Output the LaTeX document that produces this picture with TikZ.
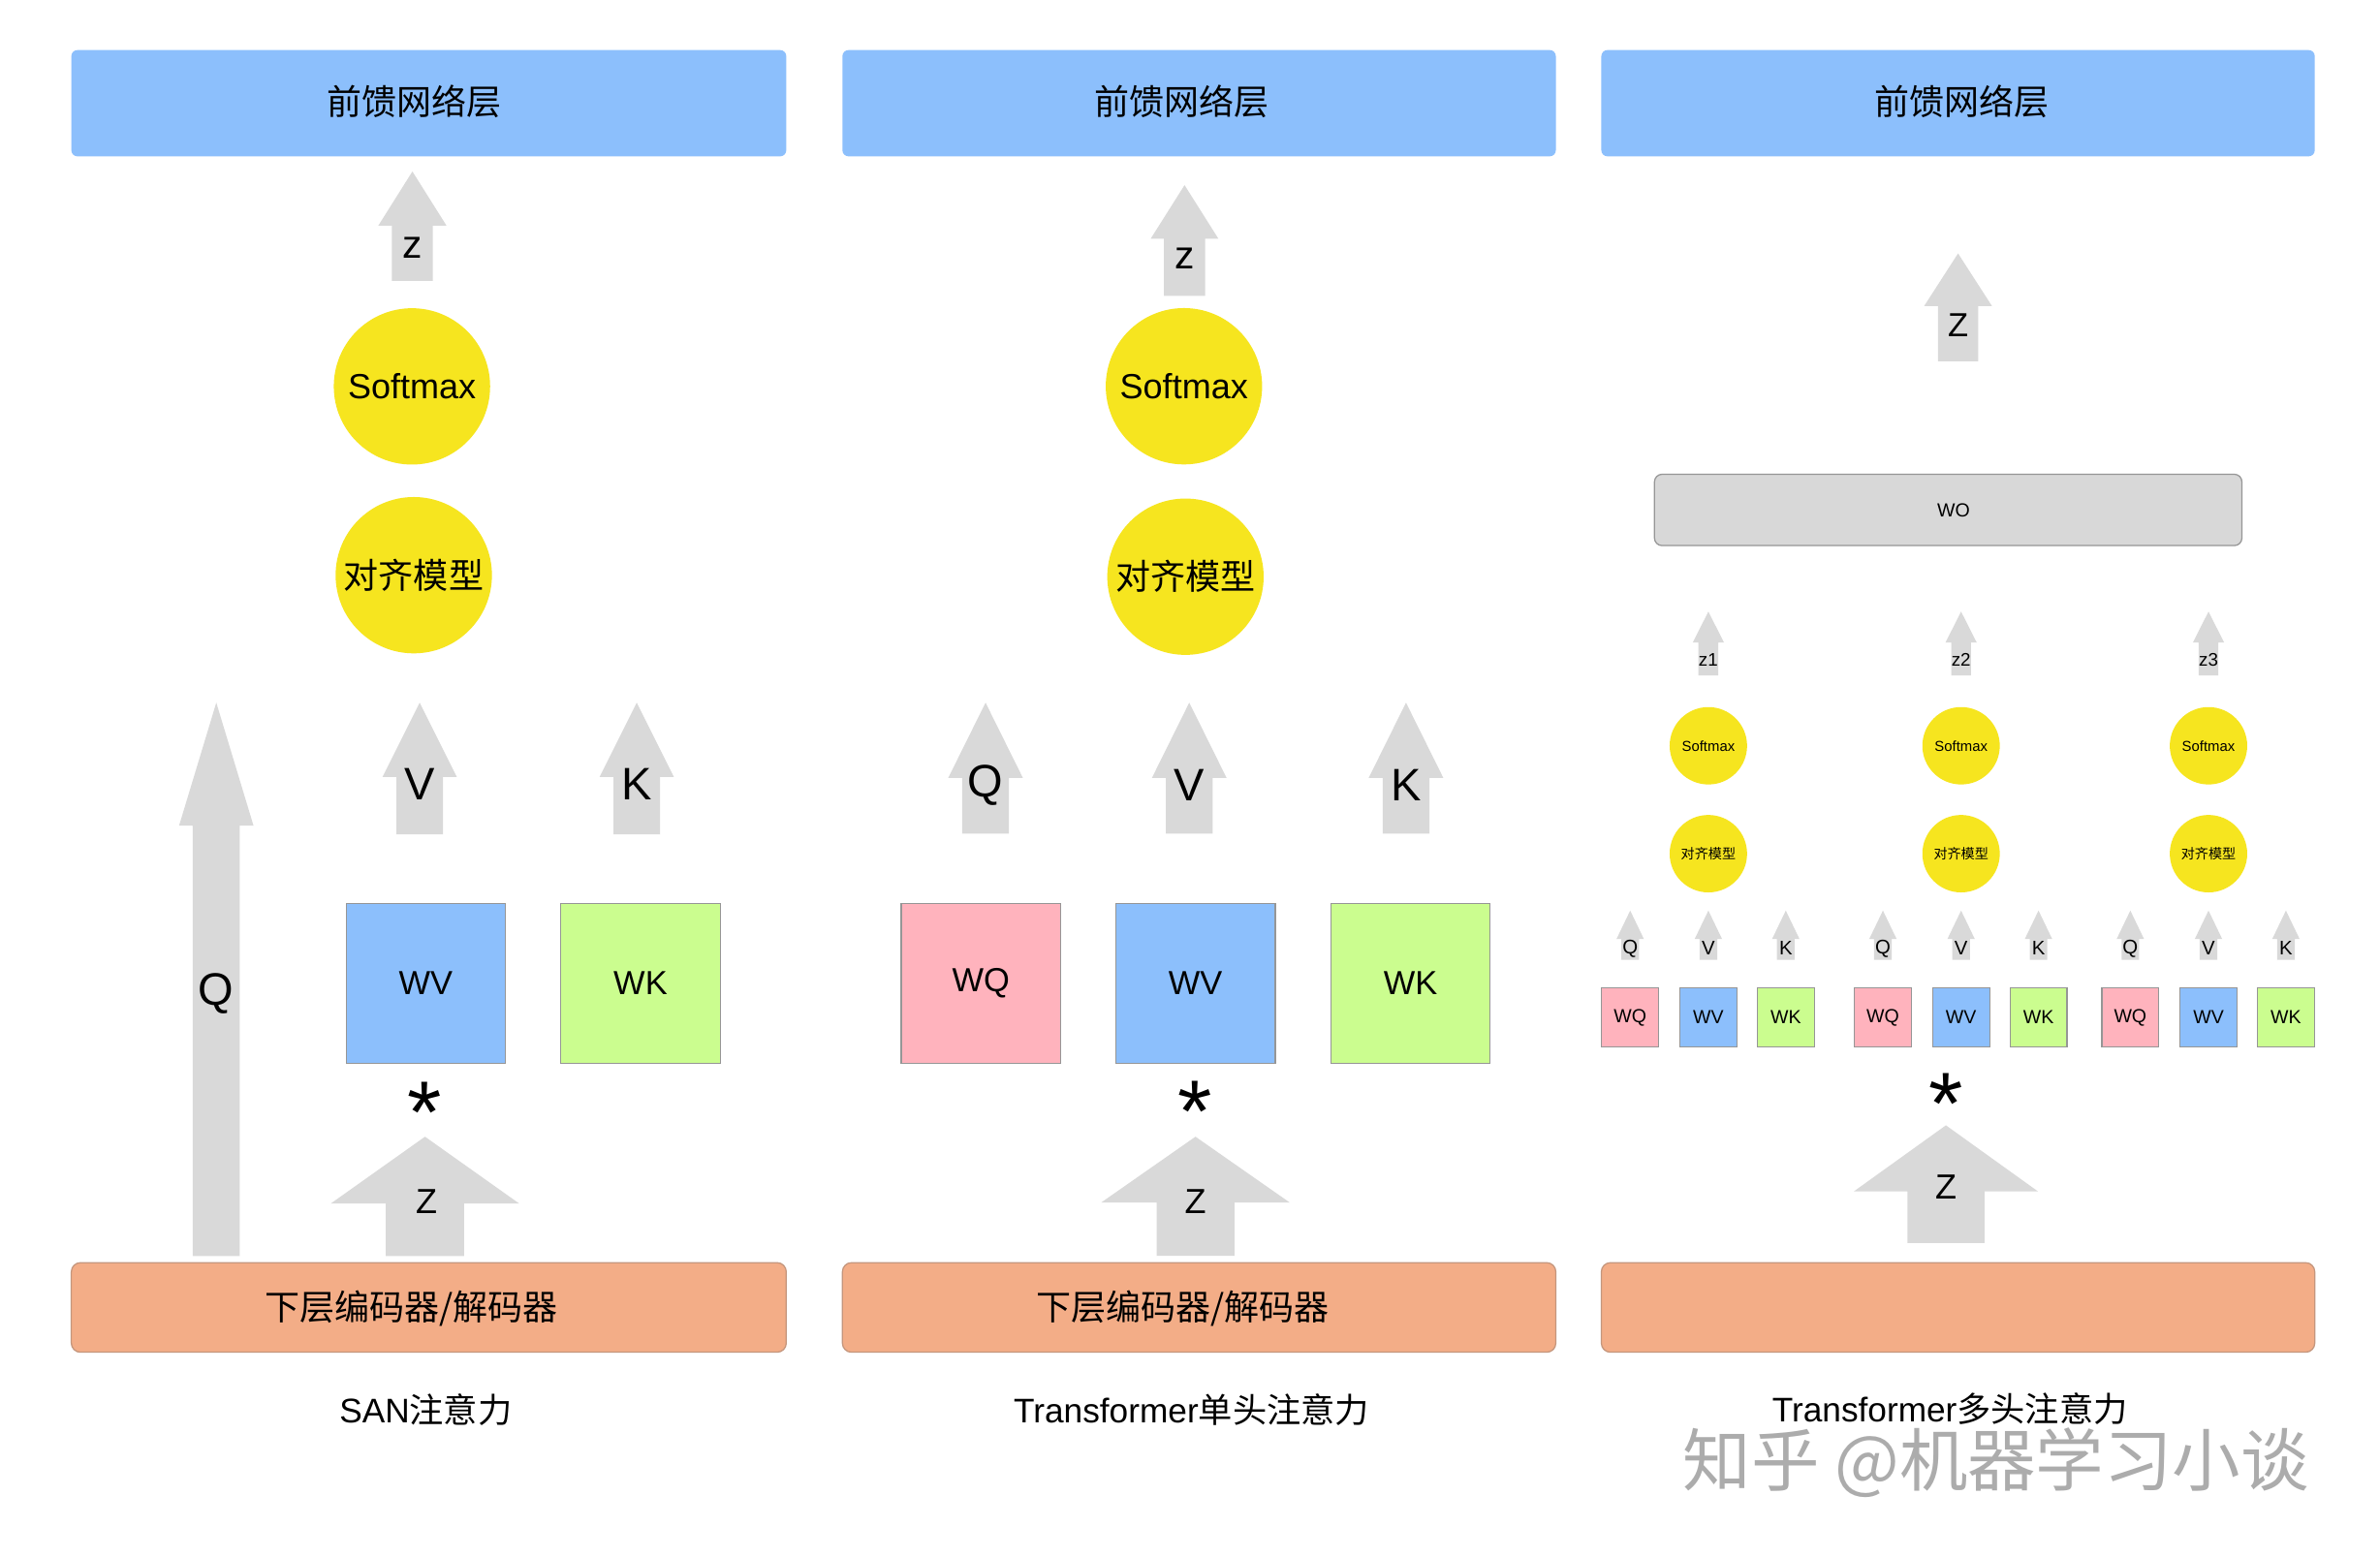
\documentclass[tikz,border=0pt]{standalone}
\usepackage{fontspec}
\setmainfont{Liberation Sans}
\newfontfamily\cjk{Noto Sans CJK SC}
\usepackage{xcolor}
\usepackage{tikz}
\usetikzlibrary{positioning}
\definecolor{ffnblue}{RGB}{140, 191, 252}
\definecolor{alignyellow}{RGB}{246, 229, 31}
\definecolor{arrowgray}{RGB}{217, 217, 217}
\definecolor{wqpink}{RGB}{255, 179, 189}
\definecolor{wkgreen}{RGB}{203, 253, 143}
\definecolor{baseorange}{RGB}{243, 173, 135}
\definecolor{baseedge}{RGB}{196, 150, 125}
\definecolor{edgegray}{RGB}{150, 150, 150}
\definecolor{wogray}{RGB}{216, 216, 216}
\definecolor{markgray}{RGB}{172, 172, 172}

\newcommand{\fsz}[1]{\fontsize{#1}{#1}\selectfont}
% x, tip y, head base y, foot y, head half width, shaft half width
\newcommand{\blockup}[6]{%
	\fill[arrowgray] (#1,#2) -- ({#1+#5},#3) -- ({#1+#6},#3) -- ({#1+#6},#4)
		-- ({#1-#6},#4) -- ({#1-#6},#3) -- ({#1-#5},#3) -- cycle;}

\tikzset{
	ffnbox/.style={
		fill=ffnblue,
		rounded corners=4pt,
		minimum width=470pt,
		minimum height=70pt,
		inner sep=0pt
	},
	basebox/.style={
		fill=baseorange,
		draw=baseedge,
		line width=0.8pt,
		rounded corners=6pt,
		minimum width=470pt,
		minimum height=59pt,
		inner sep=0pt
	},
	wbig/.style={draw=edgegray, line width=0.8pt, minimum size=105pt, inner sep=0pt, font=\fsz{22}},
	wsmall/.style={draw=edgegray, line width=0.7pt, minimum width=37.5pt, minimum height=39pt, inner sep=0pt, font=\fsz{12.5}},
	yelbig/.style={circle, fill=alignyellow, minimum size=103pt, inner sep=0pt},
	yelsmall/.style={circle, fill=alignyellow, minimum size=51pt, inner sep=0pt},
	lbl/.style={inner sep=0pt},
	star/.style={inner sep=0pt, anchor=north, font=\fsz{58}}
}

\begin{document}
\begin{tikzpicture}[x=1pt, y=-1pt]
	\useasboundingbox (0,0) rectangle (1568,1026);
	\fill[white] (0,0) rectangle (1568,1026);

	\node[ffnbox, minimum width=471pt] (ffnA) at (282.5,68) {};
	\node[lbl, font=\cjk\fsz{23}] (ffnAtxt) at (273,67) {前馈网络层};
	\blockup{271.7}{113}{148.6}{185}{22.4}{13.5}
	\node[lbl, font=\fsz{26}] (zoutA) at (271.7,163) {z};
	\node[yelbig, font=\fsz{23}] (softA) at (271.4,254.6) {Softmax};
	\node[yelbig, font=\cjk\fsz{23}] (alignA) at (272.6,379) {对齐模型};
	\blockup{142.5}{463}{544}{827.6}{24.5}{15.5}
	\node[lbl, font=\fsz{30}] (qA) at (142.5,655) {Q};
	\blockup{276.5}{463}{512}{549.7}{24.5}{15.3}
	\node[lbl, font=\fsz{30}] (vA) at (276.5,517) {V};
	\blockup{419.5}{463}{512}{549.7}{24.5}{15.3}
	\node[lbl, font=\fsz{30}] (kA) at (419.5,517) {K};
	\node[wbig, fill=ffnblue] (wvA) at (280.5,648) {WV};
	\node[wbig, fill=wkgreen] (wkA) at (422,648) {WK};
	\node[star] (starA) at (280,713) {*};
	\blockup{280}{749}{793}{827.6}{62}{25.8}
	\node[lbl, font=\fsz{23}] (zinA) at (281,791.5) {Z};
	\node[basebox, minimum width=471pt] (baseA) at (282.5,861.5) {};
	\node[lbl, font=\cjk\fsz{23}] (baseAtxt) at (271,862) {下层编码器/解码器};
	\node[lbl, font=\fsz{22.5}] (capA) at (280.5,929) {SAN{\cjk 注意力}};

	\node[ffnbox] (ffnB) at (790,68) {};
	\node[lbl, font=\cjk\fsz{23}] (ffnBtxt) at (778.5,67) {前馈网络层};
	\blockup{780.4}{122}{157.3}{195}{22.3}{13.5}
	\node[lbl, font=\fsz{26}] (zoutB) at (780.4,170) {z};
	\node[yelbig, font=\fsz{23}] (softB) at (780,254.5) {Softmax};
	\node[yelbig, font=\cjk\fsz{23}] (alignB) at (781,380) {对齐模型};
	\blockup{649.3}{463}{512.6}{549.3}{24.6}{15.4}
	\node[lbl, font=\fsz{30}] (qB) at (649.3,517.6) {Q};
	\blockup{783.5}{463}{512.6}{549.3}{24.6}{15.4}
	\node[lbl, font=\fsz{30}] (vB) at (783.5,517.6) {V};
	\blockup{926.3}{463}{512.6}{549.3}{24.6}{15.4}
	\node[lbl, font=\fsz{30}] (kB) at (926.3,517.6) {K};
	\node[wbig, fill=wqpink] (wqB) at (646.3,648) {WQ};
	\node[wbig, fill=ffnblue] (wvB) at (787.6,648) {WV};
	\node[wbig, fill=wkgreen] (wkB) at (929.3,648) {WK};
	\node[star] (starB) at (787,712) {*};
	\blockup{787.6}{749}{792.3}{827.5}{62}{25.6}
	\node[lbl, font=\fsz{23}] (zinB) at (787.6,791.5) {Z};
	\node[basebox] (baseB) at (790,861.5) {};
	\node[lbl, font=\cjk\fsz{23}] (baseBtxt) at (779,862) {下层编码器/解码器};
	\node[lbl, font=\fsz{22.5}] (capB) at (785,929) {Transformer{\cjk 单头注意力}};

	\node[ffnbox] (ffnC) at (1290,68) {};
	\node[lbl, font=\cjk\fsz{23}] (ffnCtxt) at (1292.5,67) {前馈网络层};
	\blockup{1290}{167}{201.6}{238}{22.3}{13.2}
	\node[lbl, font=\fsz{22}] (zoutC) at (1290,214) {Z};
	\node[draw=edgegray, fill=wogray, line width=0.8pt, rounded corners=5pt, minimum width=387pt, minimum height=47pt, inner sep=0pt] (wo) at (1283.5,336) {};
	\node[lbl, font=\fsz{12.5}] (wotxt) at (1287,336) {WO};
	\foreach \hx/\i in {1125.5/1, 1292/2, 1455/3} {
		\blockup{\hx}{403}{423.4}{445}{10.3}{6.5}
		\node[lbl, font=\fsz{12}] (zh-\i) at (\hx,435) {z\i};
		\node[yelsmall, font=\fsz{9.5}] (soft-\i) at (\hx,491.4) {Softmax};
		\node[yelsmall, font=\cjk\fsz{9}] (align-\i) at (\hx,562.5) {对齐模型};
		\blockup{\hx-51.5}{600}{618.7}{632.5}{9}{5.8}
		\node[lbl, font=\fsz{13}] (q-\i) at (\hx-51.5,625) {Q};
		\blockup{\hx}{600}{618.7}{632.5}{9}{5.8}
		\node[lbl, font=\fsz{13}] (v-\i) at (\hx,625) {V};
		\blockup{\hx+51}{600}{618.7}{632.5}{9}{5.8}
		\node[lbl, font=\fsz{13}] (k-\i) at (\hx+51,625) {K};
		\node[wsmall, fill=wqpink] (wq-\i) at (\hx-51.5,670.5) {WQ};
		\node[wsmall, fill=ffnblue] (wv-\i) at (\hx,670.5) {WV};
		\node[wsmall, fill=wkgreen] (wk-\i) at (\hx+51,670.5) {WK};
	}
	\node[star] (starC) at (1282,707) {*};
	\blockup{1282}{741.5}{785}{819}{60.6}{25.4}
	\node[lbl, font=\fsz{23}] (zinC) at (1282,782) {Z};
	\node[basebox] (baseC) at (1290,861.5) {};
	\node[lbl, font=\fsz{22.5}] (capC) at (1284.7,928.5) {Transformer{\cjk 多头注意力}};
	\node[lbl, font=\cjk\fsz{45}, text=markgray] (mark) at (1315,964) {知乎 @机器学习小谈};
\end{tikzpicture}
\end{document}
